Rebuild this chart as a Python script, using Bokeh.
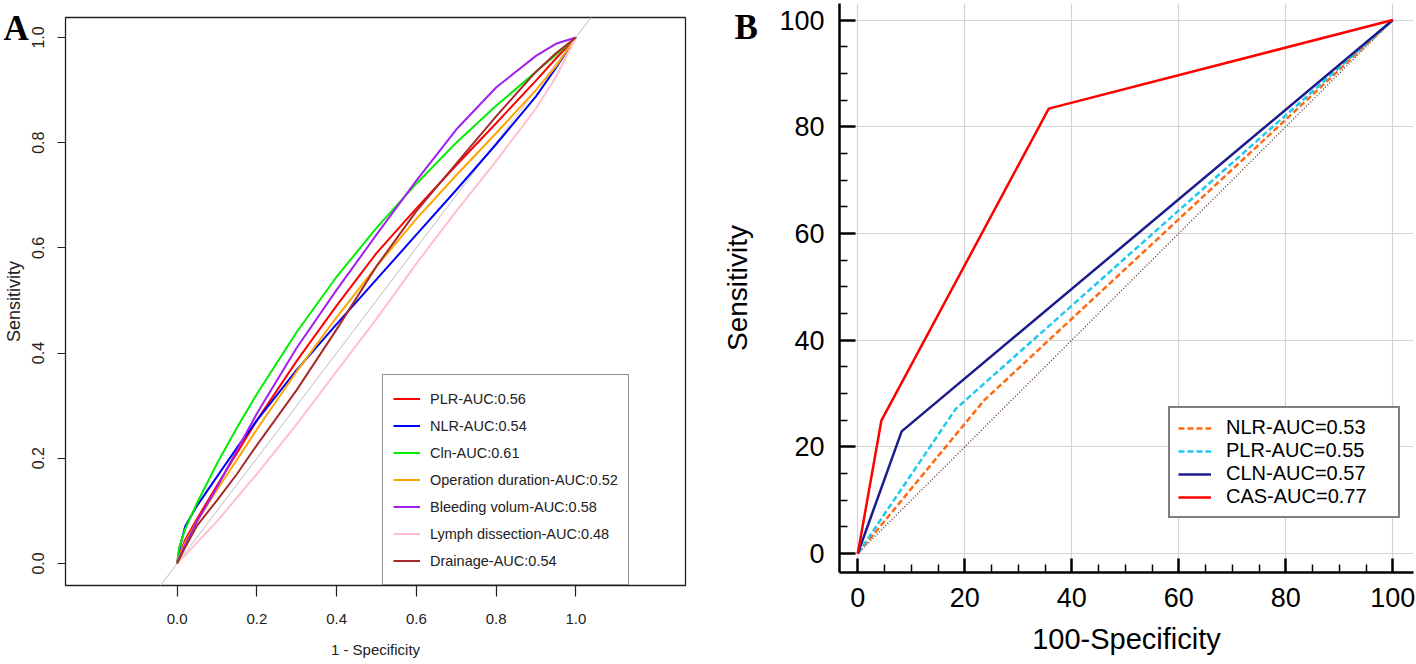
from bokeh.plotting import figure
from bokeh.models import Range1d, FixedTicker, PrintfTickFormatter, Legend, LegendItem, Title
from bokeh.embed import file_html
from bokeh.resources import INLINE

# ---------------- Panel A data (1 - specificity grid, sensitivity) ----------------
fpr_a = [0, 0.005, 0.02, 0.05, 0.1, 0.15, 0.2, 0.3, 0.4, 0.5, 0.6, 0.7, 0.8, 0.9, 0.95, 1.0]
tpr_plr = [0, 0.015, 0.045, 0.085, 0.148, 0.21, 0.272, 0.385, 0.49, 0.59, 0.675, 0.757, 0.837, 0.918, 0.96, 1.0]
tpr_nlr = [0, 0.025, 0.07, 0.11, 0.165, 0.22, 0.272, 0.368, 0.455, 0.54, 0.625, 0.71, 0.797, 0.888, 0.942, 1.0]
tpr_cln = [0, 0.03, 0.065, 0.115, 0.19, 0.258, 0.322, 0.44, 0.545, 0.638, 0.722, 0.8, 0.87, 0.935, 0.967, 1.0]
tpr_op = [0, 0.012, 0.04, 0.08, 0.14, 0.197, 0.255, 0.365, 0.468, 0.565, 0.655, 0.738, 0.818, 0.9, 0.945, 1.0]
tpr_bleed = [0, 0.01, 0.035, 0.08, 0.145, 0.215, 0.285, 0.41, 0.52, 0.625, 0.728, 0.825, 0.905, 0.965, 0.988, 1.0]
tpr_lymph = [0, 0.004, 0.015, 0.04, 0.08, 0.125, 0.17, 0.265, 0.365, 0.465, 0.57, 0.67, 0.765, 0.865, 0.925, 1.0]
tpr_drain = [0, 0.008, 0.03, 0.072, 0.12, 0.17, 0.225, 0.33, 0.445, 0.565, 0.67, 0.76, 0.85, 0.935, 0.97, 1.0]
ref_a = [-0.5, 1.5]

labels_a = ["PLR-AUC:0.56", "NLR-AUC:0.54", "Cln-AUC:0.61", "Operation duration-AUC:0.52",
            "Bleeding volum-AUC:0.58", "Lymph dissection-AUC:0.48", "Drainage-AUC:0.54"]
colors_a = ["#ff0000", "#0000ff", "#00ee00", "#ffa500", "#a020f0", "#ffc0cb", "#a52a2a"]
ticks_a = [0, 0.2, 0.4, 0.6, 0.8, 1.0]

# ---------------- Panel B data ----------------
fpr_nlr_b = [0, 23.6, 100]
tpr_nlr_b = [0, 28.7, 100]
fpr_plr_b = [0, 18.3, 100]
tpr_plr_b = [0, 27.1, 100]
fpr_cln_b = [0, 8.2, 100]
tpr_cln_b = [0, 22.9, 100]
fpr_cas_b = [0, 4.4, 35.7, 100]
tpr_cas_b = [0, 24.9, 83.4, 100]
ref_b = [0, 100]
labels_b = ["NLR-AUC=0.53", "PLR-AUC=0.55", "CLN-AUC=0.57", "CAS-AUC=0.77"]
ticks_b = [0, 20, 40, 60, 80, 100]
minor_b = [5, 10, 15, 25, 30, 35, 45, 50, 55, 65, 70, 75, 85, 90, 95]

SANS = "Liberation Sans"
SERIF = "Liberation Serif"

# ================= Panel A =================
pA = figure(width=700, height=664, x_range=Range1d(-0.28, 1.275), y_range=Range1d(-0.042, 1.038),
            output_backend="svg", toolbar_location=None, title=None,
            min_border_left=63, min_border_right=15, min_border_top=17, min_border_bottom=79)
pA.grid.visible = False
pA.outline_line_color = "#222222"
pA.outline_line_width = 1.3
pA.background_fill_color = "white"
pA.border_fill_color = "white"

pA.line(ref_a, ref_a, line_color="#bebebe", line_width=1)
series_a = [tpr_plr, tpr_nlr, tpr_cln, tpr_op, tpr_bleed, tpr_lymph, tpr_drain]
items_a = []
for tpr, col, lab in zip(series_a, colors_a, labels_a):
    r = pA.line(fpr_a, tpr, line_color=col, line_width=2)
    items_a.append(LegendItem(label=lab, renderers=[r]))

for ax in (pA.xaxis[0], pA.yaxis[0]):
    ax.ticker = FixedTicker(ticks=ticks_a, minor_ticks=[])
    ax.formatter = PrintfTickFormatter(format="%.1f")
    ax.axis_line_color = None
    ax.major_tick_in = 0
    ax.major_tick_line_color = "#222222"
    ax.major_tick_line_width = 1.2
    ax.major_label_text_color = "#222222"
    ax.axis_label_text_color = "#222222"
    ax.axis_label_text_font_style = "normal"

xa = pA.xaxis[0]
xa.major_tick_out = 11
xa.major_label_standoff = 17
xa.major_label_text_font = SANS
xa.major_label_text_font_size = "15px"
xa.axis_label = "1 - Specificity"
xa.axis_label_text_font = SANS
xa.axis_label_text_font_size = "15px"
xa.axis_label_standoff = 14

ya = pA.yaxis[0]
ya.major_tick_out = 8
ya.major_label_standoff = 13
ya.major_label_orientation = "vertical"
ya.major_label_text_font = SANS
ya.major_label_text_font_size = "16px"
ya.axis_label = "Sensitivity"
ya.axis_label_text_font = SANS
ya.axis_label_text_font_size = "18px"
ya.axis_label_standoff = 6

legA = Legend(items=items_a, location=(317, 0), padding=10, spacing=0, margin=0,
              label_height=27, glyph_height=27, glyph_width=27, label_standoff=10,
              label_text_font=SANS, label_text_font_size="14.5px", label_text_color="#222222",
              border_line_color="#222222", border_line_width=1.5,
              background_fill_color="white", background_fill_alpha=1.0)
pA.add_layout(legA)

pA.add_layout(Title(text="A", align="left", offset=-62, standoff=-61,
                    text_font=SERIF, text_font_style="bold", text_font_size="35px",
                    text_color="black"), "above")

# ================= Panel B =================
pB = figure(width=716, height=664, x_range=Range1d(-3.42, 103.87), y_range=Range1d(-3.56, 103.1),
            output_backend="svg", toolbar_location=None, title=None,
            min_border_left=139, min_border_right=3, min_border_top=3, min_border_bottom=92,
            styles={"position": "absolute", "left": "700px", "top": "0px"})
pB.outline_line_color = None
pB.background_fill_color = "white"
pB.border_fill_color = "white"

for ax in (pB.xaxis[0], pB.yaxis[0]):
    ax.ticker = FixedTicker(ticks=ticks_b, minor_ticks=minor_b)
    ax.axis_line_color = "black"
    ax.axis_line_width = 2.5
    ax.major_tick_out = 0
    ax.minor_tick_out = 0
    ax.major_tick_line_color = "black"
    ax.major_tick_line_width = 2.5
    ax.minor_tick_line_color = "black"
    ax.minor_tick_line_width = 1.5
    ax.major_label_text_font = SANS
    ax.major_label_text_font_size = "27px"
    ax.major_label_text_color = "black"
    ax.axis_label_text_font = SANS
    ax.axis_label_text_font_style = "normal"
    ax.axis_label_text_color = "black"

xb = pB.xaxis[0]
xb.major_tick_in = 14
xb.minor_tick_in = 8
xb.major_label_standoff = 15
xb.axis_label = "100-Specificity"
xb.axis_label_text_font_size = "29px"
xb.axis_label_standoff = 13

yb = pB.yaxis[0]
yb.major_tick_in = 16
yb.minor_tick_in = 8
yb.major_label_standoff = 15
yb.axis_label = "Sensitivity"
yb.axis_label_text_font_size = "28px"
yb.axis_label_standoff = 23

pB.xgrid.ticker = FixedTicker(ticks=ticks_b)
pB.ygrid.ticker = FixedTicker(ticks=ticks_b)
pB.grid.grid_line_color = "#d4d4d4"
pB.grid.grid_line_width = 1.2

pB.line(ref_b, ref_b, line_color="#6e4236", line_width=1.5, line_dash="1 2")
r1 = pB.line(fpr_nlr_b, tpr_nlr_b, line_color="#ff6a10", line_width=2.5, line_dash="6 3")
r2 = pB.line(fpr_plr_b, tpr_plr_b, line_color="#20c8f0", line_width=2.5, line_dash="6 3")
r3 = pB.line(fpr_cln_b, tpr_cln_b, line_color="#1c1c8c", line_width=2.5)
r4 = pB.line(fpr_cas_b, tpr_cas_b, line_color="#ff0000", line_width=2.5)

legB = Legend(items=[LegendItem(label=l, renderers=[r]) for l, r in zip(labels_b, [r1, r2, r3, r4])],
              location=(329, 54), padding=8, spacing=0, margin=0,
              label_height=20, glyph_height=20, glyph_width=33, label_standoff=15, label_width=164,
              label_text_font=SANS, label_text_font_size="20px", label_text_color="black",
              border_line_color="black", border_line_width=2,
              background_fill_color="white", background_fill_alpha=1.0)
pB.add_layout(legB)

pB.add_layout(Title(text="B", align="left", offset=-105, standoff=-87,
                    text_font=SERIF, text_font_style="bold", text_font_size="35px",
                    text_color="black"), "above")

open("out.html", "w").write(file_html([pA, pB], INLINE))
